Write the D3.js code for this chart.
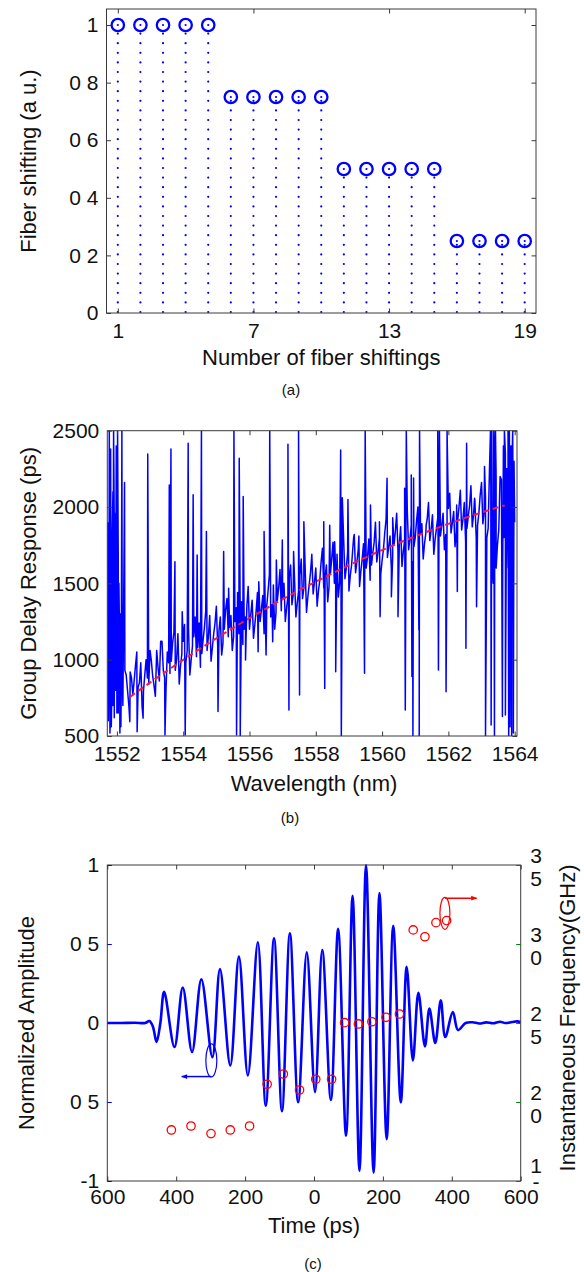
<!DOCTYPE html>
<html><head><meta charset="utf-8">
<script src="https://cdn.jsdelivr.net/npm/d3@7"></script>
<style>
body{margin:0;background:#fff}
svg{display:block}
text{font-family:"Liberation Sans",Arial,Helvetica,sans-serif;fill:#111}
</style>
</head><body>
<svg id="c" width="584" height="1272"></svg>
<script>
// ================= DATA =================
// (a) fiber shifting stem plot
const shiftIndex = [1,2,3,4,5,6,7,8,9,10,11,12,13,14,15,16,17,18,19];
const shiftValue = [1,1,1,1,1,0.75,0.75,0.75,0.75,0.75,0.5,0.5,0.5,0.5,0.5,0.25,0.25,0.25,0.25];
const shiftXTicks = [1,7,13,19];
const shiftYTicks = [0,0.2,0.4,0.6,0.8,1];
const shiftYTickLabels = ["0","0 2","0 4","0 6","0 8","1"];

// (b) group delay response: sampled band, two interleaved sample sets (step 0.08 nm each)
const bandStartA = 1551.76, bandStartB = 1551.80, bandStep = 0.08;
const bandValuesA = [
 1350,700,1900,650,1150,980,
 930,800,920,770,960,820,980,790,1000,840,
 990,830,1060,860,1120,880,1050,
 910,1110,930,1170,960,1120,
 980,1200,1000,1150,1020,1240,
 1040,1210,1060,1290,1080,1240,
 1090,1280,1110,1330,1150,1290,
 1150,1340,1170,1380,1200,1350,
 1200,1390,1230,1440,1250,1420,
 1260,1450,1280,1490,1310,1470,
 1320,1500,1340,1540,1360,1520,
 1370,1550,1400,1590,1410,1570,
 1430,1600,1450,1640,1470,1620,
 1480,1660,1500,1690,1510,1670,
 1530,1700,1550,1740,1570,1720,
 1580,1760,1600,1790,1620,1770,
 1640,1800,1650,1830,1670,1810,
 1680,1840,1700,1870,1710,1850,
 1720,1880,1740,1910,1750,1890,
 1760,1920,1780,1950,1790,1930,
 1810,1960,1820,1990,1830,1970,
 1840,2000,1850,2030,1860,2010,
 1870,2040,1880,2080,1890,2060,
 1860,2150,1820,2200,1850,2180,
 1800,2250,1750,2300,1900
];
const bandValuesB = [
 600,2100,900,1700,560,1250,
 900,700,880,860,1050,850,690,900,880,1060,
 890,760,950,1120,930,800,980,
 990,1180,1000,840,1040,1230,
 1060,900,1090,1280,1080,950,
 1130,1320,1150,990,1170,1350,
 1190,1030,1200,1400,1210,1060,
 1250,1440,1260,1100,1280,1480,
 1300,1140,1320,1510,1330,1170,
 1350,1560,1360,1200,1390,1590,
 1400,1250,1420,1620,1430,1280,
 1450,1660,1470,1310,1490,1690,
 1510,1350,1520,1730,1540,1380,
 1560,1770,1570,1410,1590,1790,
 1600,1450,1620,1820,1640,1480,
 1660,1860,1670,1520,1700,1900,
 1710,1560,1720,1920,1740,1590,
 1750,1960,1760,1610,1780,1980,
 1790,1640,1800,2000,1820,1660,
 1830,2030,1850,1690,1860,2060,
 1880,1720,1890,2090,1900,1740,
 1910,2110,1920,1770,1940,2140,
 1950,1790,1960,2160,1970,1800,
 2250,1700,2300,1750,2200,1650,
 2350,1600,2400,1700
];
// spikes [wavelength nm, delay ps]
const spikes = [
 [1551.72,1900],[1551.74,600],[1551.77,2500],[1551.79,520],[1551.81,2380],[1551.83,560],[1551.86,1820],[1551.88,700],
 [1551.90,2500],[1551.92,620],[1551.94,1960],[1551.96,800],[1551.98,2400],[1552.00,700],[1552.02,2500],[1552.04,650],
 [1552.06,1500],[1552.09,520],[1552.11,1300],[1552.13,780],[1552.15,2500],[1552.18,700],[1552.23,2160],
 [1552.39,594],[1552.61,528],[1552.79,617],[1552.93,2348],[1553.45,507],[1553.58,2145],[1553.63,2380],[1553.75,1642],
 [1553.97,1314],[1554.06,507],[1554.15,2418],[1554.30,2080],[1554.42,1686],[1554.55,2500],[1554.70,1839],[1555.05,660],
 [1555.22,1708],[1555.37,1468],[1555.53,2500],[1555.61,507],[1555.69,2320],[1555.72,500],[1555.81,2069],[1555.88,998],
 [1556.26,1052],[1556.44,1839],[1556.50,1030],[1556.61,2500],[1556.70,1118],[1556.81,1653],[1556.99,1784],[1557.16,2411],
 [1557.19,670],[1557.33,1708],[1557.48,2500],[1557.51,768],[1557.64,1904],[1558.24,1904],[1558.27,812],[1558.42,1880],
 [1558.57,1773],[1558.60,921],[1558.75,2374],[1558.77,500],[1558.80,2060],[1558.97,2050],[1559.14,1797],[1559.30,1810],
 [1559.47,911],[1559.49,2500],[1559.65,2014],[1559.92,1904],[1559.94,1282],[1560.15,2189],[1560.28,1413],[1560.32,1930],
 [1560.48,1282],[1560.68,2123],[1560.70,670],[1560.73,2500],[1560.88,2210],[1560.90,889],[1560.93,500],[1560.95,2190],
 [1561.11,1195],[1561.12,500],[1561.13,2500],[1561.33,1883],[1561.68,2500],[1561.70,932],[1561.73,2500],[1561.93,790],
 [1561.96,2500],[1562.25,2014],[1562.27,1446],[1562.53,1075],[1562.55,2418],[1562.79,2057],[1562.85,1347],[1563.09,2265],
 [1563.12,500],[1563.27,2500],[1563.29,572],[1563.31,2500],[1563.35,1500],[1563.37,2500],[1563.39,500],[1563.42,2500],
 [1563.44,1600],[1563.63,627],[1563.66,2400],[1563.69,2500],[1563.72,638],[1563.80,2500],[1563.82,500],[1563.84,2500],
 [1563.86,560],[1563.89,2400],[1563.91,500],[1563.94,2500],[1563.96,520],[1563.98,2300]
];
// fitted curve (red dashed)
const fitWl  = [1552.4,1553,1554,1555,1556,1557,1558,1559,1560,1561,1562,1563,1563.7];
const fitVal = [757,850,999,1140,1272,1396,1511,1619,1718,1808,1890,1964,2011];
const wlTicks = [1552,1554,1556,1558,1560,1562,1564];
const delayTicks = [500,1000,1500,2000,2500];

// (c) chirped pulse and instantaneous frequency
const pulseT = [-600,-560,-520,-490,-478,-468,-457,-446,-435,-405,-381,-354,-327,-295,-273,-243,-218,-192,-163,-140,-116,-93,-70,-46,-21,3,24,49,70,93,112,132,151,173,190,211,230,252,269,287,303,322,335,352,368,381,403,418,440,460,480,500,520,540,555,575,590,600];
const pulseA = [0,0,0.002,0,0.012,-0.02,-0.12,0,0.197,-0.152,0.225,-0.184,0.276,-0.216,0.341,-0.269,0.42,-0.332,0.511,-0.523,0.536,-0.559,0.568,-0.502,0.447,-0.438,0.462,-0.487,0.596,-0.714,0.805,-0.936,1.0,-0.947,0.822,-0.735,0.615,-0.502,0.356,-0.237,0.191,-0.148,0.091,-0.127,0.144,-0.089,0.07,-0.045,0,0.005,-0.003,0.004,-0.002,0.008,0,0.006,0.01,0.004];
const freqT = [-414,-357,-299,-243,-187,-136,-89,-42,5,51,89,129,168,209,248,288,322,354,385];
const freqV = [1.823,1.848,1.80,1.823,1.848,2.112,2.177,2.076,2.144,2.144,2.502,2.494,2.508,2.536,2.557,3.089,3.046,3.135,3.148];
const timeTicks = [-600,-400,-200,0,200,400,600];
const timeTickLabels = ["600","400","200","0","200","400","600"];
const ampTicks = [-1,-0.5,0,0.5,1];
const ampTickLabels = ["-1","0 5","0","0 5","1"];
const freqTicks = [1.5,2.0,2.5,3.0,3.5];
const freqTickTop = ["1","2","2","3","3"];
const freqTickBottom = ["-","0","5","0","5"];

// ================= DRAWING =================
const svg = d3.select("#c");
const FRAME = "#3a3a3a", BLUE = "#0000ff", RED = "#ff0000", GREEN = "#008000";
const FS = 21;

function frame(p){
  svg.append("rect").attr("x",p.l).attr("y",p.t).attr("width",p.r-p.l).attr("height",p.b-p.t)
    .attr("fill","none").attr("stroke",FRAME).attr("stroke-width",1);
}
function styleAxis(g, color){
  g.select(".domain").remove();
  g.selectAll(".tick line").attr("stroke", color || FRAME).attr("stroke-width",1);
  g.selectAll(".tick text").attr("font-size",FS).attr("fill","#111")
    .attr("font-family",'"Liberation Sans",Arial,sans-serif');
  return g;
}
function label(x,y,txt,size,rot,family){
  const t = svg.append("text").attr("text-anchor","middle").attr("font-size",size).text(txt);
  if(family) t.attr("font-family",family);
  if(rot) t.attr("transform",`translate(${x},${y}) rotate(${rot})`).attr("dy","0.35em");
  else t.attr("x",x).attr("y",y);
  return t;
}

// ---------- (a) ----------
const A = {l:106.5, r:536, t:9, b:313};
const xA = d3.scaleLinear().domain([0.5,19.5]).range([A.l,A.r]);
const yA = d3.scaleLinear().domain([0,1.0556]).range([A.b,A.t]);
const gA = svg.append("g");
shiftIndex.forEach((k,i)=>{
  gA.append("line").attr("x1",xA(k)).attr("x2",xA(k)).attr("y1",yA(0)-1).attr("y2",yA(shiftValue[i]))
    .attr("stroke",BLUE).attr("stroke-width",2.2).attr("stroke-linecap","round").attr("stroke-dasharray","0 9.6");
});
gA.selectAll("circle.m").data(shiftIndex).enter().append("circle")
  .attr("cx",d=>xA(d)).attr("cy",(d,i)=>yA(shiftValue[i])).attr("r",6.2)
  .attr("fill","none").attr("stroke",BLUE).attr("stroke-width",2.3);
gA.selectAll("circle.d").data(shiftIndex).enter().append("circle")
  .attr("cx",d=>xA(d)).attr("cy",(d,i)=>yA(shiftValue[i])).attr("r",1.1).attr("fill",BLUE);
frame(A);
styleAxis(svg.append("g").attr("transform",`translate(${A.l},0)`).call(d3.axisLeft(yA).tickValues(shiftYTicks).tickFormat((d,i)=>shiftYTickLabels[i]).tickSize(-4.5).tickPadding(8)));
styleAxis(svg.append("g").attr("transform",`translate(${A.r},0)`).call(d3.axisRight(yA).tickValues(shiftYTicks).tickFormat("").tickSize(-4.5)));
styleAxis(svg.append("g").attr("transform",`translate(0,${A.b})`).call(d3.axisBottom(xA).tickValues(shiftXTicks).tickFormat(d3.format("d")).tickSize(-4.5).tickPadding(10)));
styleAxis(svg.append("g").attr("transform",`translate(0,${A.t})`).call(d3.axisTop(xA).tickValues(shiftXTicks).tickFormat("").tickSize(-4.5)));
label(28,(A.t+A.b)/2,"Fiber shifting (a u.)",22,-90);
label((A.l+A.r)/2,365,"Number of fiber shiftings",22);
label(291,395,"(a)",15,0,'"Liberation Serif","Times New Roman",serif');

// ---------- (b) ----------
const B = {l:107.3, r:517, t:430.7, b:736};
const xB = d3.scaleLinear().domain([1551.71,1564.07]).range([B.l,B.r]);
const yB = d3.scaleLinear().domain([500,2500]).range([B.b,B.t]);
svg.append("clipPath").attr("id","clipB").append("rect").attr("x",B.l).attr("y",B.t).attr("width",B.r-B.l).attr("height",B.b-B.t);
const bandPts = bandValuesA.map((v,i)=>[bandStartA+i*bandStep, v])
  .concat(bandValuesB.map((v,i)=>[bandStartB+i*bandStep, v]));
const allPts = bandPts.concat(spikes).sort((a,b)=>a[0]-b[0]);
const gB = svg.append("g").attr("clip-path","url(#clipB)");
gB.append("path").datum(allPts)
  .attr("d", d3.line().x(d=>xB(d[0])).y(d=>yB(d[1])))
  .attr("fill","none").attr("stroke",BLUE).attr("stroke-width",1.5).attr("stroke-linejoin","round");
gB.append("path").datum(fitWl.map((w,i)=>[w,fitVal[i]]))
  .attr("d", d3.line().curve(d3.curveMonotoneX).x(d=>xB(d[0])).y(d=>yB(d[1])))
  .attr("fill","none").attr("stroke","#ff1a2e").attr("stroke-width",2).attr("stroke-dasharray","6 4");
frame(B);
styleAxis(svg.append("g").attr("transform",`translate(${B.l},0)`).call(d3.axisLeft(yB).tickValues(delayTicks).tickFormat(d3.format("d")).tickSize(-4.5).tickPadding(8)));
styleAxis(svg.append("g").attr("transform",`translate(${B.r},0)`).call(d3.axisRight(yB).tickValues(delayTicks).tickFormat("").tickSize(-4.5)));
styleAxis(svg.append("g").attr("transform",`translate(0,${B.b})`).call(d3.axisBottom(xB).tickValues(wlTicks).tickFormat(d3.format("d")).tickSize(-4.5).tickPadding(10)));
styleAxis(svg.append("g").attr("transform",`translate(0,${B.t})`).call(d3.axisTop(xB).tickValues(wlTicks).tickFormat("").tickSize(-4.5)));
label(28,(B.t+B.b)/2,"Group Delay Response (ps)",22,-90);
label(314,791,"Wavelength (nm)",22);
label(290,823,"(b)",15,0,'"Liberation Serif","Times New Roman",serif');

// ---------- (c) ----------
const C = {l:107.3, r:520.7, t:865, b:1181};
const xC = d3.scaleLinear().domain([-600,600]).range([C.l,C.r]);
const yC = d3.scaleLinear().domain([-1,1]).range([C.b,C.t]);
const yF = d3.scaleLinear().domain([1.5,3.5]).range([C.b,C.t]);
svg.append("clipPath").attr("id","clipC").append("rect").attr("x",C.l).attr("y",C.t-3).attr("width",C.r-C.l).attr("height",C.b-C.t+6);
const gC = svg.append("g").attr("clip-path","url(#clipC)");
gC.append("path").datum(pulseT.map((t,i)=>[t,pulseA[i]]))
  .attr("d", d3.line().curve(d3.curveCatmullRom.alpha(0.5)).x(d=>xC(d[0])).y(d=>yC(d[1])))
  .attr("fill","none").attr("stroke",BLUE).attr("stroke-width",2.6).attr("stroke-linejoin","round");
gC.selectAll("circle").data(freqT).enter().append("circle")
  .attr("cx",d=>xC(d)).attr("cy",(d,i)=>yF(freqV[i])).attr("r",4.2)
  .attr("fill","none").attr("stroke",RED).attr("stroke-width",1.3);
// annotation markers
const defs = svg.append("defs");
[["arrB",BLUE],["arrR",RED]].forEach(([id,col])=>{
  defs.append("marker").attr("id",id).attr("viewBox","0 0 10 10").attr("refX",9).attr("refY",5)
    .attr("markerWidth",7).attr("markerHeight",6).attr("orient","auto-start-reverse").attr("markerUnits","userSpaceOnUse")
    .append("path").attr("d","M0,1 L10,5 L0,9 z").attr("fill",col);
});
// blue: ellipse at t=-298, amp -0.237 ; arrow to the left
svg.append("ellipse").attr("cx",xC(-298)).attr("cy",yC(-0.237)).attr("rx",5.5).attr("ry",16.5)
  .attr("fill","none").attr("stroke",BLUE).attr("stroke-width",1.2);
svg.append("line").attr("x1",xC(-298)).attr("y1",yC(-0.339)).attr("x2",xC(-384)).attr("y2",yC(-0.339))
  .attr("stroke",BLUE).attr("stroke-width",1.5).attr("marker-end","url(#arrB)");
// red: ellipse at t=380, f 3.194 ; arrow to the right
svg.append("ellipse").attr("cx",xC(380)).attr("cy",yF(3.194)).attr("rx",5).attr("ry",16)
  .attr("fill","none").attr("stroke",RED).attr("stroke-width",1.2);
svg.append("line").attr("x1",xC(380)).attr("y1",yF(3.29)).attr("x2",xC(472)).attr("y2",yF(3.29))
  .attr("stroke",RED).attr("stroke-width",1.5).attr("marker-end","url(#arrR)");
frame(C);
styleAxis(svg.append("g").attr("transform",`translate(${C.l},0)`).call(d3.axisLeft(yC).tickValues(ampTicks).tickFormat((d,i)=>ampTickLabels[i]).tickSize(-4.5).tickPadding(8)), BLUE);
styleAxis(svg.append("g").attr("transform",`translate(${C.r},0)`).call(d3.axisRight(yF).tickValues(freqTicks).tickFormat("").tickSize(-4.5)), GREEN);
styleAxis(svg.append("g").attr("transform",`translate(0,${C.b})`).call(d3.axisBottom(xC).tickValues(timeTicks).tickFormat((d,i)=>timeTickLabels[i]).tickSize(-4.5).tickPadding(8)));
styleAxis(svg.append("g").attr("transform",`translate(0,${C.t})`).call(d3.axisTop(xC).tickValues(timeTicks).tickFormat("").tickSize(-4.5)));
// right axis two-line tick labels
freqTicks.forEach((v,i)=>{
  const y = yF(v);
  const last = freqTickBottom[i] === "-";
  svg.append("text").attr("x",536).attr("y", y + (last ? -8.5 : -2.5)).attr("text-anchor","middle").attr("font-size",FS).text(freqTickTop[i]);
  svg.append("text").attr("x",536).attr("y", y + (last ? 8 : 20.5)).attr("text-anchor","middle").attr("font-size",FS).text(freqTickBottom[i]);
});
label(26,(C.t+C.b)/2,"Normalized Amplitude",22,-90);
label(567,1018,"Instantaneous Frequency(GHz)",22,-90);
label(314,1233,"Time (ps)",22);
label(313,1269,"(c)",15,0,'"Liberation Serif","Times New Roman",serif');
</script>
</body></html>
